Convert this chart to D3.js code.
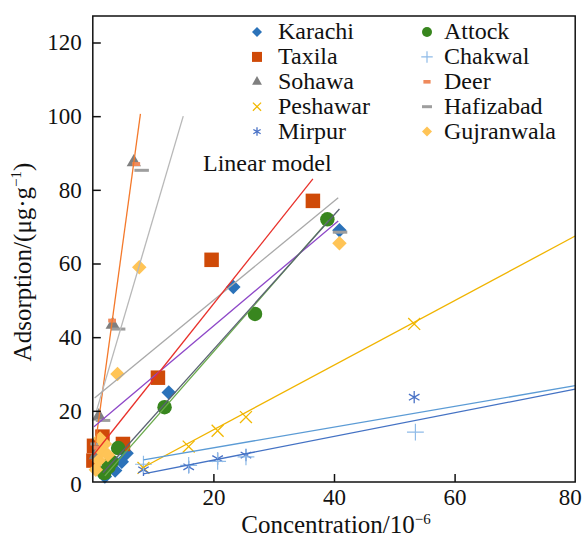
<!DOCTYPE html>
<html>
<head>
<meta charset="utf-8">
<script src="https://cdn.jsdelivr.net/npm/d3@7"></script>
<style>
  body { margin: 0; background: #fff; }
</style>
</head>
<body>
<div class="chart"></div>
<script>
// Series names, marker colours and points [concentration, adsorption]
var seriesNames = ["Karachi", "Taxila", "Sohawa", "Peshawar", "Mirpur",
                   "Attock", "Chakwal", "Deer", "Hafizabad", "Gujranwala"];
var seriesColors = ["#2b72b9", "#cf4a08", "#7f7f7f", "#f2b800", "#4a72c6",
                    "#38861e", "#8fbbe8", "#ef8a5c", "#9e9e9e", "#ffc456"];

var karachi = [[2.0, 2.2], [3.7, 3.8], [4.8, 6.2], [5.6, 8.5], [12.6, 25], [23.3, 53.6], [40.9, 69]];
var taxila = [[0.1, 6.5], [0.2, 10.5], [1.6, 13], [5.0, 11], [10.8, 29], [19.7, 61], [36.5, 77]];
var sohawa = [[0.5, 8], [1.0, 18.5], [3.3, 43.4], [6.8, 87.5]];
var peshawar = [[8.4, 4.5], [15.9, 10.3], [20.7, 14.6], [25.4, 18.3], [53.3, 43.6]];
var mirpur = [[8.4, 4.0], [15.9, 4.8], [20.7, 7.0], [25.4, 8.0], [53.3, 23.7]];
var attock = [[1.9, 3.1], [2.6, 4.8], [3.1, 6.2], [4.2, 9.9], [11.9, 21], [26.9, 46.3], [38.9, 72]];
var chakwal = [[8.4, 5.5], [15.9, 5.2], [20.7, 6.3], [25.4, 7.5], [53.5, 14.2]];
var deer = [[0.6, 10], [3.2, 44.5], [7.2, 87]];
var hafizabad = [[0.8, 11], [1.7, 17.4], [4.2, 42.2], [8.1, 85.3], [41, 68.5]];
var gujranwala = [[0.5, 4], [1.0, 6.5], [1.5, 9], [2.0, 11], [1.2, 12.5], [2.5, 8], [4.1, 30], [7.7, 59], [40.9, 65.5]];
var seriesData = [karachi, taxila, sohawa, peshawar, mirpur, attock, chakwal, deer, hafizabad, gujranwala];

// Linear model lines: [x start, x end, slope, intercept]
var fitNames = ["Deer", "Sohawa", "Gujranwala", "Hafizabad", "Taxila", "Attock", "Karachi", "Peshawar", "Chakwal", "Mirpur"];
var fitColors = ["#f4792b", "#b8b8b8", "#a9a9a9", "#8e48c8", "#e8302a", "#6aaa4c", "#5a6272", "#f0b400", "#5b9bd5", "#4472c4"];
var fitParams = [[0.4, 7.9, 12.0, 5.8], [0.6, 15.0, 5.56, 16.6], [0.3, 40.7, 1.345, 23.1],
                 [0.2, 40.7, 1.38, 15.4], [0.1, 36.5, 2.06, 7.8], [2.0, 39.1, 1.87, -1.4],
                 [1.7, 40.9, 1.826, 0.1], [8.1, 80, 0.877, -2.7], [8.4, 80, 0.281, 4.34],
                 [8.4, 80, 0.321, 0.2]];

var xTicks = [20, 40, 60, 80];
var yTicks = [0, 20, 40, 60, 80, 100, 120];

var svgWidth = 585;
var svgHeight = 539;
var serif = "'Liberation Serif', 'Times New Roman', serif";

var svg = d3.select(".chart")
  .append("svg")
  .attr("width", svgWidth)
  .attr("height", svgHeight);

// Scales (bottom axis sits a hair above zero in the original)
var xScale = d3.scaleLinear().domain([0, 80]).range([92.8, 575.2]);
var yScale = d3.scaleLinear().domain([0, 120]).range([484.5, 42.5]);

// Marker drawers
function drawMarker(g, i, x, y, s) {
  var c = seriesColors[i];
  if (i == 0 || i == 9) {
    g.append("path").attr("d", d3.symbol(d3.symbolSquare, s * s * 0.5)())
      .attr("transform", `translate(${x},${y}) rotate(45)`).attr("fill", c);
  } else if (i == 1) {
    g.append("rect").attr("x", x - s / 2).attr("y", y - s / 2)
      .attr("width", s).attr("height", s).attr("fill", c);
  } else if (i == 2) {
    g.append("path").attr("d", d3.symbol(d3.symbolTriangle, s * s * 0.42)())
      .attr("transform", `translate(${x},${y})`).attr("fill", c);
  } else if (i == 3) {
    g.append("path").attr("d", d3.symbol(d3.symbolTimes, s * s * 0.45)())
      .attr("transform", `translate(${x},${y})`).attr("fill", "none")
      .attr("stroke", c).attr("stroke-width", 1.3);
  } else if (i == 4) {
    g.append("path").attr("d", d3.symbol(d3.symbolAsterisk, s * s * 0.5)())
      .attr("transform", `translate(${x},${y})`).attr("fill", "none")
      .attr("stroke", c).attr("stroke-width", 1.3);
  } else if (i == 5) {
    g.append("circle").attr("cx", x).attr("cy", y).attr("r", s / 2).attr("fill", c);
  } else if (i == 6) {
    g.append("path").attr("d", d3.symbol(d3.symbolPlus, s * s * 0.45)())
      .attr("transform", `translate(${x},${y})`).attr("fill", "none")
      .attr("stroke", c).attr("stroke-width", 1.2);
  } else if (i == 7) {
    g.append("rect").attr("x", x - s * 0.3).attr("y", y - s * 0.15)
      .attr("width", s * 0.6).attr("height", s * 0.3).attr("fill", c);
  } else {
    g.append("rect").attr("x", x - s * 0.5).attr("y", y - 1.5)
      .attr("width", s).attr("height", 3).attr("fill", c);
  }
}

// points
var pointsGroup = svg.append("g");
seriesData.forEach(function(pts, i) {
  pts.forEach(function(p) {
    var size = (i == 7) ? 13 : 14.5;
    drawMarker(pointsGroup, i, xScale(p[0]), yScale(p[1]), size);
  });
});

// fit lines
var lineGen = d3.line().x(d => xScale(d[0])).y(d => yScale(d[1]));
svg.append("g").selectAll("path")
  .data(fitParams)
  .enter()
  .append("path")
  .attr("d", d => lineGen([[d[0], d[2] * d[0] + d[3]], [d[1], d[2] * d[1] + d[3]]]))
  .attr("stroke", (d, i) => fitColors[i])
  .attr("stroke-width", 1.3)
  .attr("fill", "none");

// frame
svg.append("rect")
  .attr("x", xScale(0)).attr("y", 16)
  .attr("width", xScale(80) - xScale(0)).attr("height", 482 - 16)
  .attr("fill", "none").attr("stroke", "#111").attr("stroke-width", 1.5);

// axes with inward ticks
var bottomAxis = d3.axisBottom(xScale).tickValues(xTicks).tickSizeInner(-8).tickSizeOuter(0).tickPadding(7);
var leftAxis = d3.axisLeft(yScale).tickValues(yTicks).tickSizeInner(-8).tickSizeOuter(0).tickPadding(11);

var xAxisG = svg.append("g").attr("transform", "translate(0,482)").call(bottomAxis);
var yAxisG = svg.append("g").attr("transform", `translate(${xScale(0)},0)`).call(leftAxis);
[xAxisG, yAxisG].forEach(function(g) {
  g.select(".domain").remove();
  g.selectAll("line").attr("stroke", "#111").attr("stroke-width", 1.5);
  g.selectAll("text").style("font-size", "23px").attr("fill", "#111");
});
yAxisG.selectAll(".tick").filter(d => d == 0).select("line").remove();
var lastTick = xAxisG.selectAll(".tick").filter(d => d == 80);
lastTick.select("line").remove();
lastTick.select("text").attr("text-anchor", "end").attr("x", 6);

// axis titles
var xTitle = svg.append("text").attr("x", 336).attr("y", 533)
  .attr("text-anchor", "middle").style("font-size", "25px");
xTitle.append("tspan").text("Concentration/10");
xTitle.append("tspan").attr("dy", -9).style("font-size", "15px").text("−6");

var yTitle = svg.append("text")
  .attr("transform", "translate(31,262) rotate(-90)")
  .attr("text-anchor", "middle").style("font-size", "25px");
yTitle.append("tspan").text("Adsorption/(μg·g");
yTitle.append("tspan").attr("dy", -10).style("font-size", "15px").text("−1");
yTitle.append("tspan").attr("dy", 10).text(")");

// legend
var legend = svg.append("g");
seriesNames.forEach(function(name, i) {
  var col = Math.floor(i / 5);
  var row = i % 5;
  var base = 39 + row * 24.9;
  var mx = col == 0 ? 257 : 427;
  var tx = col == 0 ? 278 : 444;
  drawMarker(legend, i, mx, base - 7, i == 7 ? 12 : 10);
  legend.append("text").attr("x", tx).attr("y", base)
    .style("font-size", "24px").text(name);
});
legend.append("text").attr("x", 203).attr("y", 171)
  .style("font-size", "24px").text("Linear model");

// one serif face for every text
svg.selectAll("text").style("font-family", serif).attr("fill", "#111");
</script>
</body>
</html>
